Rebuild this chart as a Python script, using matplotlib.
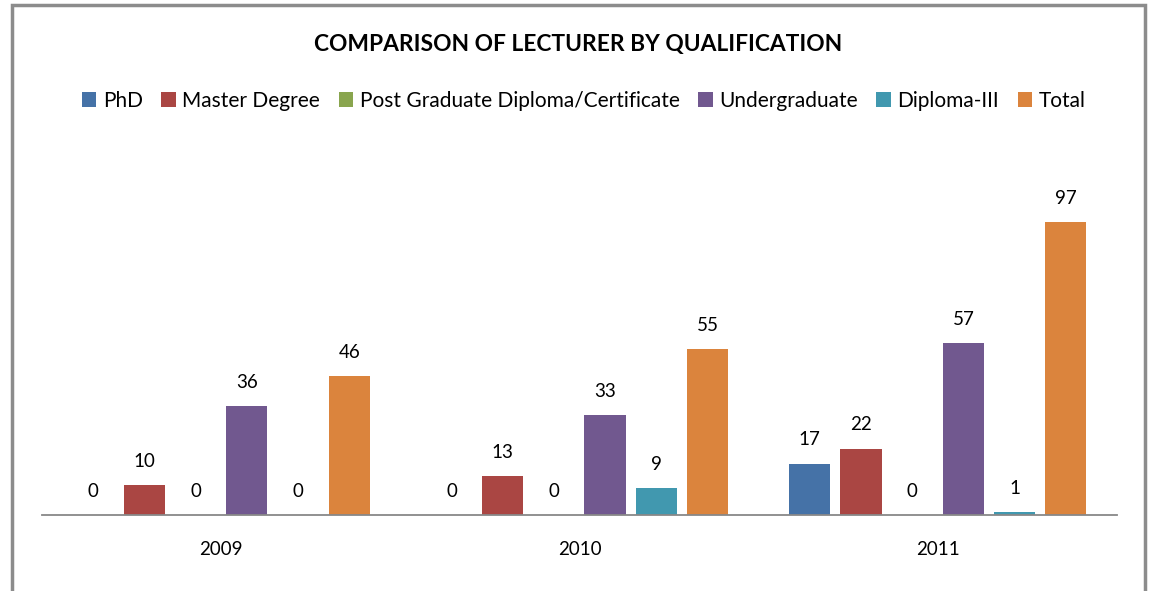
import matplotlib.pyplot as plt
import numpy as np
from matplotlib.patches import Rectangle

plt.rcParams['font.family'] = ['Lato', 'DejaVu Sans']

years = ['2009', '2010', '2011']
series = ['PhD', 'Master Degree', 'Post Graduate Diploma/Certificate',
          'Undergraduate', 'Diploma-III', 'Total']
phd = [0, 0, 17]
master = [10, 13, 22]
postgrad = [0, 0, 0]
undergrad = [36, 33, 57]
diploma = [0, 9, 1]
total = [46, 55, 97]
colors = ['#4572A7', '#AA4643', '#89A54E', '#71588F', '#4198AF', '#DB843D']

values = [phd, master, postgrad, undergrad, diploma, total]

fig = plt.figure(figsize=(11.49, 5.91), dpi=100)
ax = fig.add_axes([42 / 1149, 76 / 591, 1075 / 1149, 362 / 591])

x = np.arange(len(years))
slot = 1 / 7.0
width = 0.115
handles = []
for i, (name, vals) in enumerate(zip(series, values)):
    pos = x + (i - 2.5) * slot
    bars = ax.bar(pos, vals, width, color=colors[i], label=name)
    handles.append(bars)
    for p, v in zip(pos, vals):
        ax.annotate(str(v), (p, v), xytext=(0, 11), textcoords='offset points',
                    ha='center', va='bottom', fontsize=13.5)

ax.set_xlim(-0.5, 2.5)
ax.set_ylim(0, 120)
for s in ['top', 'right', 'left']:
    ax.spines[s].set_visible(False)
ax.spines['bottom'].set_color('#888888')
ax.spines['bottom'].set_linewidth(1.3)
ax.set_yticks([])
ax.set_xticks(x)
ax.set_xticklabels(years, fontsize=13.5)
ax.tick_params(axis='x', length=0, pad=19)

fig.text(0.503, 1 - 45 / 591, 'COMPARISON OF LECTURER BY QUALIFICATION',
         ha='center', va='center', fontsize=16.4, fontweight='bold')
fig.legend(handles=handles, loc='center', bbox_to_anchor=(0.508, 1 - 101 / 591),
           ncol=6, frameon=False, fontsize=15, handlelength=0.7, handleheight=0.7,
           handletextpad=0.3, columnspacing=0.9)

border = Rectangle((12 / 1149, -0.05), (1145 - 12) / 1149, 1.05 - 5 / 591,
                   transform=fig.transFigure, fill=False, edgecolor='#8c8c8c',
                   linewidth=2.5)
fig.add_artist(border)

fig.savefig('out.png', dpi=100)
